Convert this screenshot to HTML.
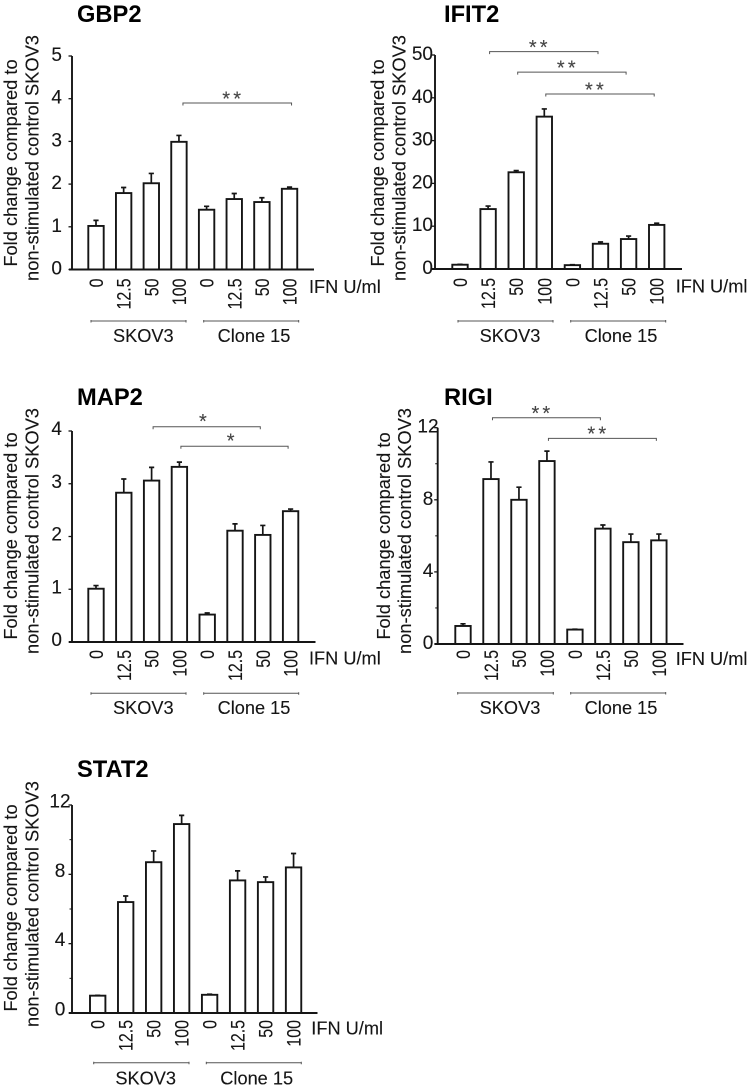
<!DOCTYPE html>
<html lang="en">
<head>
<meta charset="utf-8">
<title>Fold change bar charts</title>
<style>
html,body{margin:0;padding:0;background:#fff;}
svg{display:block;}
text{font-family:"Liberation Sans",Arial,sans-serif;fill:#151515;stroke:#151515;stroke-width:.12px;}
.title{font-size:23.7px;font-weight:bold;fill:#000;stroke:none;}
.ylab{font-size:18.3px;text-anchor:middle;}
.unit{font-size:18.2px;}
.group{font-size:18.2px;text-anchor:middle;}
.gb{fill:none;stroke:#555;stroke-width:1;}
</style>
</head>
<body>
<svg id="figure" width="751" height="1089" viewBox="0 0 751 1089" xmlns="http://www.w3.org/2000/svg">
  <g id="gbp2">
    <text class="title" x="77" y="22">GBP2</text>
    <text class="ylab" transform="translate(17,163) rotate(-90)">Fold change compared to</text>
    <text class="ylab" transform="translate(38.5,158) rotate(-90)">non-stimulated control SKOV3</text>
    <text class="unit" x="309" y="293">IFN U/ml</text>
    <path class="gb" d="M91 320v2.5M91 321H186M186 320v2.5"/>
    <path class="gb" d="M203.7 320v2.5M203.7 321H298.7M298.7 320v2.5"/>
    <text class="group" x="143.3" y="342">SKOV3</text>
    <text class="group" x="254" y="342">Clone 15</text>
  </g>
  <g id="ifit2">
    <text class="title" x="444" y="22">IFIT2</text>
    <text class="ylab" transform="translate(384,163) rotate(-90)">Fold change compared to</text>
    <text class="ylab" transform="translate(405.5,158) rotate(-90)">non-stimulated control SKOV3</text>
    <text class="unit" x="675.7" y="292.5">IFN U/ml</text>
    <path class="gb" d="M458 320v2.5M458 321H553M553 320v2.5"/>
    <path class="gb" d="M570.7 320v2.5M570.7 321H665.7M665.7 320v2.5"/>
    <text class="group" x="510" y="342">SKOV3</text>
    <text class="group" x="621" y="342">Clone 15</text>
  </g>
  <g id="map2">
    <text class="title" x="77" y="405">MAP2</text>
    <text class="ylab" transform="translate(17,536) rotate(-90)">Fold change compared to</text>
    <text class="ylab" transform="translate(38.5,531) rotate(-90)">non-stimulated control SKOV3</text>
    <text class="unit" x="309" y="664.5">IFN U/ml</text>
    <path class="gb" d="M91 692.3v2.5M91 693.3H186M186 692.3v2.5"/>
    <path class="gb" d="M203.7 692.3v2.5M203.7 693.3H298.7M298.7 692.3v2.5"/>
    <text class="group" x="143.3" y="714">SKOV3</text>
    <text class="group" x="254" y="714">Clone 15</text>
  </g>
  <g id="rigi">
    <text class="title" x="444" y="405">RIGI</text>
    <text class="ylab" transform="translate(390,536) rotate(-90)">Fold change compared to</text>
    <text class="ylab" transform="translate(411,531) rotate(-90)">non-stimulated control SKOV3</text>
    <text class="unit" x="675.7" y="665">IFN U/ml</text>
    <path class="gb" d="M457.7 692v2.5M457.7 693H553.3M553.3 692v2.5"/>
    <path class="gb" d="M570.7 692v2.5M570.7 693H665.7M665.7 692v2.5"/>
    <text class="group" x="510" y="714">SKOV3</text>
    <text class="group" x="621" y="714">Clone 15</text>
  </g>
  <g id="stat2">
    <text class="title" x="77" y="777">STAT2</text>
    <text class="ylab" transform="translate(17,908) rotate(-90)">Fold change compared to</text>
    <text class="ylab" transform="translate(38.5,904) rotate(-90)">non-stimulated control SKOV3</text>
    <text class="unit" x="311.3" y="1034.5">IFN U/ml</text>
    <path class="gb" d="M93.7 1061.7v2.5M93.7 1062.7H189M189 1061.7v2.5"/>
    <path class="gb" d="M206.3 1061.7v2.5M206.3 1062.7H301.3M301.3 1061.7v2.5"/>
    <text class="group" x="145.7" y="1084.3">SKOV3</text>
    <text class="group" x="256.7" y="1084.3">Clone 15</text>
  </g>
</svg>
<script>
// Shared categories
const doses = ['0', '12.5', '50', '100', '0', '12.5', '50', '100'];

// GBP2
const gbp2Values = [1.02, 1.79, 2.02, 2.99, 1.4, 1.65, 1.58, 1.89];
const gbp2ErrorTops = [1.15, 1.92, 2.25, 3.14, 1.48, 1.78, 1.68, 1.93];
const gbp2TickLabels = [0, 1, 2, 3, 4, 5];
const gbp2MinorTicks = [];
const gbp2Sig = [{ from: 3, to: 7, level: 3.9, mark: '**' }];

// IFIT2
const ifit2Values = [1.0, 14, 22.6, 35.6, 0.9, 5.9, 7, 10.3];
const ifit2ErrorTops = [1.1, 14.7, 23, 37.4, 1, 6.3, 7.7, 10.7];
const ifit2TickLabels = [0, 10, 20, 30, 40, 50];
const ifit2MinorTicks = [];
const ifit2Sig = [
  { from: 1, to: 5, level: 50.8, mark: '**' },
  { from: 2, to: 6, level: 46, mark: '**' },
  { from: 3, to: 7, level: 40.9, mark: '**' }
];

// MAP2
const map2Values = [1.01, 2.83, 3.06, 3.32, 0.52, 2.11, 2.03, 2.48];
const map2ErrorTops = [1.07, 3.09, 3.31, 3.41, 0.55, 2.24, 2.21, 2.52];
const map2TickLabels = [0, 1, 2, 3, 4];
const map2MinorTicks = [];
const map2Sig = [
  { from: 2, to: 6, level: 4.08, mark: '*' },
  { from: 3, to: 7, level: 3.71, mark: '*' }
];

// RIGI
const rigiValues = [1.0, 9.15, 8, 10.15, 0.8, 6.4, 5.65, 5.75];
const rigiErrorTops = [1.12, 10.1, 8.7, 10.7, 0.82, 6.6, 6.1, 6.1];
const rigiTickLabels = [0, 4, 8, 12];
const rigiMinorTicks = [2, 6, 10];
const rigiSig = [
  { from: 1, to: 5, level: 12.55, mark: '**' },
  { from: 3, to: 7, level: 11.41, mark: '**' }
];

// STAT2
const stat2Values = [1.0, 6.4, 8.7, 10.9, 1.05, 7.65, 7.55, 8.4];
const stat2ErrorTops = [1.02, 6.75, 9.35, 11.4, 1.08, 8.2, 7.85, 9.2];
const stat2TickLabels = [0, 4, 8, 12];
const stat2MinorTicks = [2, 6, 10];
const stat2Sig = [];

const SVGNS = 'http://www.w3.org/2000/svg';
function make(parent, tag, attrs) {
  const el = document.createElementNS(SVGNS, tag);
  for (const k in attrs) el.setAttribute(k, attrs[k]);
  parent.appendChild(el);
  return el;
}

function drawChart(c) {
  const root = document.getElementById(c.id);
  const x = i => c.firstBar + c.step * i;
  const y = v => c.y0 - (v / c.yMax) * (c.y0 - c.yTop);
  const ink = '#151515';
  const lw = 1.9;

  c.values.forEach((v, i) => {
    const cx = x(i);
    const err = make(root, 'path', { d: 'M' + cx + ' ' + y(v) + 'V' + y(c.tops[i]) + 'M' + (cx - 2.6) + ' ' + y(c.tops[i]) + 'H' + (cx + 2.6), fill: 'none', stroke: ink, 'stroke-width': 1.7 });
    
    
    const bar = make(root, 'rect', { x: cx - 7.7, y: y(v), width: 15.4, height: c.y0 - y(v), fill: '#fff', stroke: ink, 'stroke-width': lw });
    
    
    const lab = make(root, 'text', { transform: 'translate(' + (cx + 7) + ',' + (c.y0 + c.xGap) + ') rotate(-90) scale(0.84,1)', 'text-anchor': 'end', 'font-size': 19 });
    lab.textContent = doses[i];
    
    
  });

  const yAxis = make(root, 'path', { d: 'M' + c.axisX + ' ' + c.yTop + 'V' + c.y0, fill: 'none', stroke: ink, 'stroke-width': lw });
  
  
  const xAxis = make(root, 'path', { d: 'M' + (c.axisX - 3) + ' ' + c.y0 + 'H' + c.xEnd, fill: 'none', stroke: ink, 'stroke-width': lw });
  
  

  c.ticks.forEach(t => {
    const tick = make(root, 'path', { d: 'M' + (c.axisX - 3.5) + ' ' + y(t) + 'H' + c.axisX, fill: 'none', stroke: ink, 'stroke-width': 1.3 });
    
    
    const lab = make(root, 'text', { x: c.labelX, y: y(t) + c.labelDy, 'text-anchor': c.labelAnchor, 'font-size': 19 });
    lab.textContent = String(t);
    
    
  });

  c.minor.forEach(t => {
    const tick = make(root, 'path', { d: 'M' + (c.axisX - 2.5) + ' ' + y(t) + 'H' + c.axisX, fill: 'none', stroke: ink, 'stroke-width': 1 });
    
    
  });

  c.sig.forEach(s => {
    const a = x(s.from) + c.sigPad[0];
    const b = x(s.to) + c.sigPad[1];
    const by = y(s.level);
    const br = make(root, 'path', { d: 'M' + a + ' ' + (by + 2.5) + 'V' + by + 'H' + b + 'V' + (by + 2.5), fill: 'none', stroke: '#555', 'stroke-width': 1 });
    
    
    const shift = s.mark.length > 1 ? -4 : -2.2;
    const lift = s.mark.length > 1 ? 2.4 : 1.2;
    const star = make(root, 'text', { x: (a + b) / 2 + shift, y: by + lift, 'text-anchor': 'middle', 'font-size': 20, 'letter-spacing': 3.2, style: 'fill:#444;stroke:#444' });
    star.textContent = s.mark;
    
    
  });
}

drawChart({ id: 'gbp2', values: gbp2Values, tops: gbp2ErrorTops, ticks: gbp2TickLabels, minor: gbp2MinorTicks, sig: gbp2Sig,
  firstBar: 96, step: 27.65, y0: 269.5, yTop: 56, yMax: 5, axisX: 72, xEnd: 314, xGap: 9, labelX: 62, labelAnchor: 'end', labelDy: 5, sigPad: [4, 2] });
drawChart({ id: 'ifit2', values: ifit2Values, tops: ifit2ErrorTops, ticks: ifit2TickLabels, minor: ifit2MinorTicks, sig: ifit2Sig,
  firstBar: 460, step: 28.1, y0: 269, yTop: 55, yMax: 50, axisX: 435, xEnd: 682, xGap: 9, labelX: 433, labelAnchor: 'end', labelDy: 5, sigPad: [1.5, -2.5] });
drawChart({ id: 'map2', values: map2Values, tops: map2ErrorTops, ticks: map2TickLabels, minor: map2MinorTicks, sig: map2Sig,
  firstBar: 96, step: 27.8, y0: 642, yTop: 431, yMax: 4, axisX: 72, xEnd: 315.5, xGap: 8, labelX: 62, labelAnchor: 'end', labelDy: 4, sigPad: [1.5, -2.5] });
drawChart({ id: 'rigi', values: rigiValues, tops: rigiErrorTops, ticks: rigiTickLabels, minor: rigiMinorTicks, sig: rigiSig,
  firstBar: 463, step: 27.98, y0: 644, yTop: 427.7, yMax: 12, axisX: 437.7, xEnd: 683.5, xGap: 6, labelX: 428, labelAnchor: 'middle', labelDy: 5, sigPad: [1.5, -2.5] });
drawChart({ id: 'stat2', values: stat2Values, tops: stat2ErrorTops, ticks: stat2TickLabels, minor: stat2MinorTicks, sig: stat2Sig,
  firstBar: 97.7, step: 27.98, y0: 1013, yTop: 805, yMax: 12, axisX: 72, xEnd: 317.5, xGap: 7, labelX: 60, labelAnchor: 'middle', labelDy: 2.5, sigPad: [1.5, -2.5] });
</script>
</body>
</html>
